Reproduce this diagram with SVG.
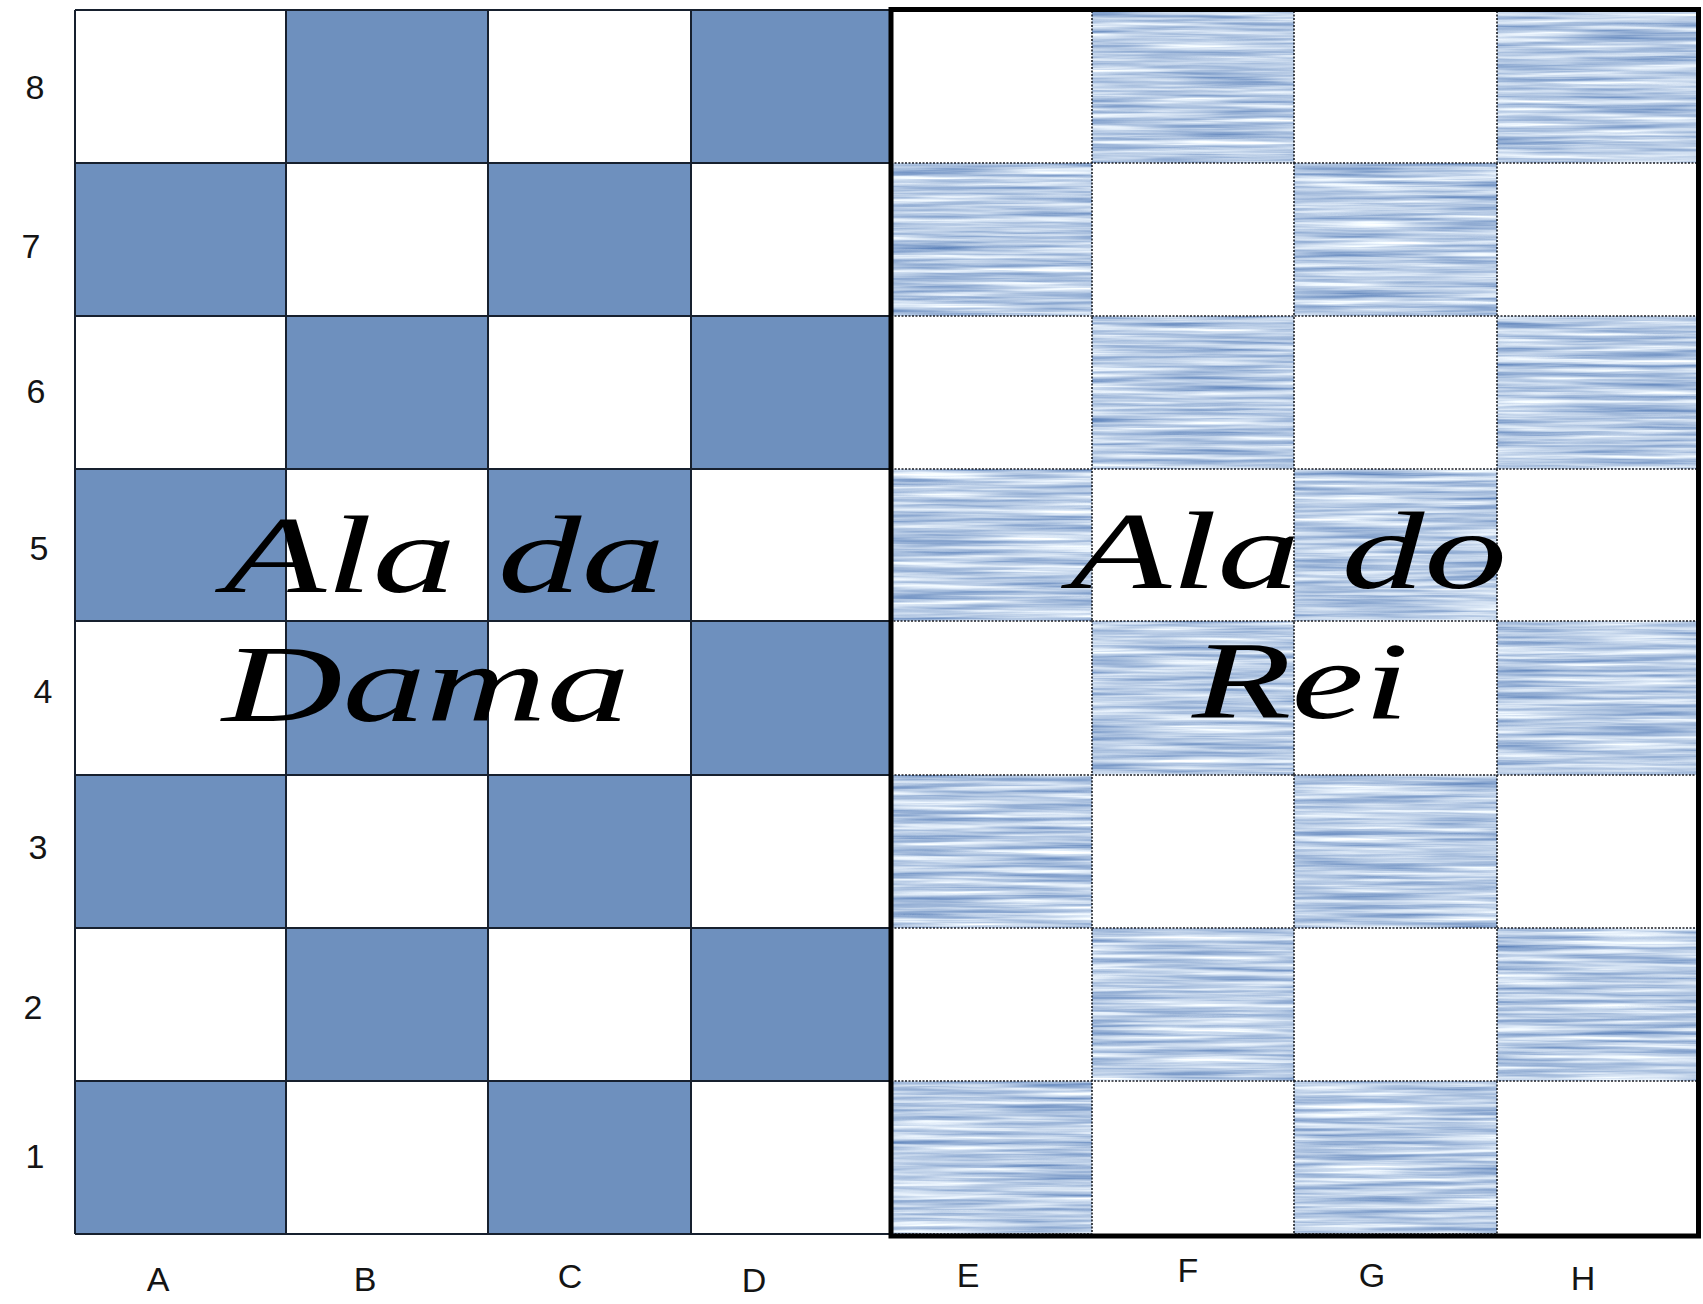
<svg xmlns="http://www.w3.org/2000/svg" width="1703" height="1304" viewBox="0 0 1703 1304">
<style>
.dk{fill:#6e90be}
.tx{fill:#000}
.grid{stroke:#17202e;stroke-width:2;fill:none}
.dot{fill:none;stroke:#1a1d24;stroke-width:1.6;stroke-dasharray:2 1.5}
.lbl{font-family:"Liberation Sans",Arial,sans-serif;font-size:34px;fill:#141414;text-anchor:middle}
.big{font-family:"Liberation Serif","Times New Roman",serif;font-style:italic;font-size:110px;fill:#000}
</style>
<defs>
<filter id="streak" x="0" y="0" width="1" height="1" filterUnits="objectBoundingBox" color-interpolation-filters="sRGB">
<feTurbulence type="fractalNoise" baseFrequency="0.007 0.22" numOctaves="3" seed="7" result="n"/>
<feColorMatrix in="n" type="matrix" values="-0.85 0 0 0 1.15  -0.68 0 0 0 1.14  -0.4 0 0 0 1.1  0 0 0 0 1" result="c"/>
<feComposite in="c" in2="SourceGraphic" operator="in"/>
</filter>
</defs>
<rect width="1703" height="1304" fill="#fff"/>

<g id="queenside">
<g id="queenside-squares">
<rect class="dk" x="286" y="10" width="202" height="153"/>
<rect class="dk" x="691" y="10" width="200" height="153"/>
<rect class="dk" x="75" y="163" width="211" height="153"/>
<rect class="dk" x="488" y="163" width="203" height="153"/>
<rect class="dk" x="286" y="316" width="202" height="153"/>
<rect class="dk" x="691" y="316" width="200" height="153"/>
<rect class="dk" x="75" y="469" width="211" height="152"/>
<rect class="dk" x="488" y="469" width="203" height="152"/>
<rect class="dk" x="286" y="621" width="202" height="154"/>
<rect class="dk" x="691" y="621" width="200" height="154"/>
<rect class="dk" x="75" y="775" width="211" height="153"/>
<rect class="dk" x="488" y="775" width="203" height="153"/>
<rect class="dk" x="286" y="928" width="202" height="153"/>
<rect class="dk" x="691" y="928" width="200" height="153"/>
<rect class="dk" x="75" y="1081" width="211" height="153"/>
<rect class="dk" x="488" y="1081" width="203" height="153"/>
</g>
<g id="queenside-grid" class="grid">
<path d="M75 10V1234M286 10V1234M488 10V1234M691 10V1234"/>
<path d="M75 10H891M75 163H891M75 316H891M75 469H891M75 621H891M75 775H891M75 928H891M75 1081H891M75 1234H891"/>
</g>
</g>

<g id="kingside">
<g id="kingside-squares" filter="url(#streak)">
<rect class="tx" x="1092" y="10" width="202" height="153"/>
<rect class="tx" x="1497" y="10" width="202" height="153"/>
<rect class="tx" x="891" y="163" width="201" height="153"/>
<rect class="tx" x="1294" y="163" width="203" height="153"/>
<rect class="tx" x="1092" y="316" width="202" height="153"/>
<rect class="tx" x="1497" y="316" width="202" height="153"/>
<rect class="tx" x="891" y="469" width="201" height="152"/>
<rect class="tx" x="1294" y="469" width="203" height="152"/>
<rect class="tx" x="1092" y="621" width="202" height="154"/>
<rect class="tx" x="1497" y="621" width="202" height="154"/>
<rect class="tx" x="891" y="775" width="201" height="153"/>
<rect class="tx" x="1294" y="775" width="203" height="153"/>
<rect class="tx" x="1092" y="928" width="202" height="153"/>
<rect class="tx" x="1497" y="928" width="202" height="153"/>
<rect class="tx" x="891" y="1081" width="201" height="153"/>
<rect class="tx" x="1294" y="1081" width="203" height="153"/>
</g>
<g id="kingside-edges" class="dot">
<rect x="1092" y="10" width="202" height="153"/>
<rect x="1497" y="10" width="202" height="153"/>
<rect x="891" y="163" width="201" height="153"/>
<rect x="1294" y="163" width="203" height="153"/>
<rect x="1092" y="316" width="202" height="153"/>
<rect x="1497" y="316" width="202" height="153"/>
<rect x="891" y="469" width="201" height="152"/>
<rect x="1294" y="469" width="203" height="152"/>
<rect x="1092" y="621" width="202" height="154"/>
<rect x="1497" y="621" width="202" height="154"/>
<rect x="891" y="775" width="201" height="153"/>
<rect x="1294" y="775" width="203" height="153"/>
<rect x="1092" y="928" width="202" height="153"/>
<rect x="1497" y="928" width="202" height="153"/>
<rect x="891" y="1081" width="201" height="153"/>
<rect x="1294" y="1081" width="203" height="153"/>
</g>
<rect id="kingside-frame" x="891" y="9.5" width="807.5" height="1226.5" fill="none" stroke="#000" stroke-width="5"/>
</g>

<g id="wing-labels">
<text class="big" x="224" y="592" textLength="441" lengthAdjust="spacingAndGlyphs">Ala da</text>
<text class="big" x="222" y="721" textLength="408" lengthAdjust="spacingAndGlyphs">Dama</text>
<text class="big" x="1070" y="588" textLength="437" lengthAdjust="spacingAndGlyphs">Ala do</text>
<text class="big" x="1192" y="718" textLength="217" lengthAdjust="spacingAndGlyphs">Rei</text>
</g>

<g id="rank-labels">
<text class="lbl" x="35" y="99">8</text>
<text class="lbl" x="31" y="258">7</text>
<text class="lbl" x="36" y="403">6</text>
<text class="lbl" x="39" y="560">5</text>
<text class="lbl" x="43" y="703">4</text>
<text class="lbl" x="38" y="859">3</text>
<text class="lbl" x="33" y="1019">2</text>
<text class="lbl" x="35" y="1168">1</text>
</g>

<g id="file-labels">
<text class="lbl" x="158" y="1291">A</text>
<text class="lbl" x="365" y="1291">B</text>
<text class="lbl" x="570" y="1288">C</text>
<text class="lbl" x="754" y="1292">D</text>
<text class="lbl" x="968" y="1287">E</text>
<text class="lbl" x="1188" y="1282">F</text>
<text class="lbl" x="1372" y="1287">G</text>
<text class="lbl" x="1583" y="1290">H</text>
</g>
</svg>
